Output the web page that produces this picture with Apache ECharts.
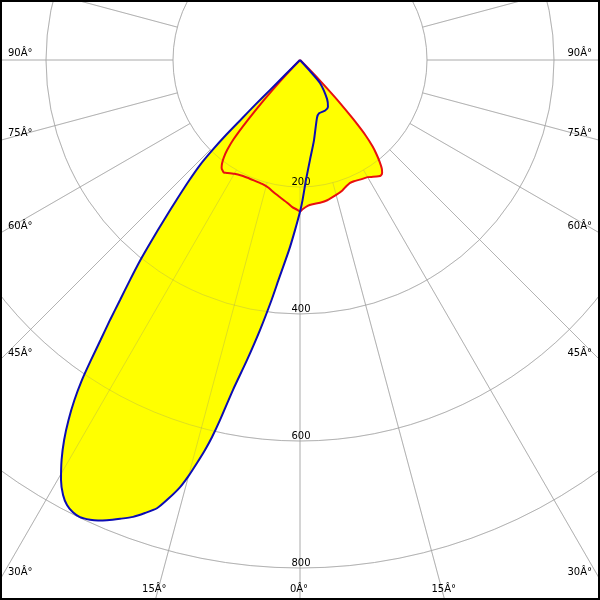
<!DOCTYPE html>
<html><head><meta charset="utf-8">
<script src="https://cdn.jsdelivr.net/npm/echarts@6/dist/echarts.min.js"></script>
<style>html,body{margin:0;padding:0;background:#fff}#c{width:600px;height:600px}</style>
</head><body><div id="c"></div>
<script>
// Blue curve (C0-C180 plane): angle in degrees from nadir (positive = left), intensity
const blueAngles = [45,45,45,45,44.76,44.6,44.19,43.6,42.64,41.42,40.36,39.43,38.58,37.69,36.87,36.16,35.47,34.86,34.27,33.55,32.74,31.84,30.81,29.64,28.58,27.64,26.66,25.7,24.54,23.68,22.76,21.41,20.07,18.89,17.7,16.74,15.7,14.97,14.34,13.69,13.14,12.53,11.48,10.02,8.43,6.77,5.58,3.31,1.68,0,-1.02,-2.86,-5.71,-9.93,-16.34,-19.72,-26.12,-30.79,-34.7,-41.0,-42.3,-43];
const blueValues = [0,33,67,100,133,166,198,228,257,294,331,367,403,438,472,507,541,576,610,643,674,704,733,761,780,791,797,799,796,792,786,776,766,754,741,722,699,677,655,632,610,581,530,480,430,381,348,300,268,239,221,189,158,128,95,89,89,86,75,48,23,0];
// Red curve (C90-C270 plane)
const redAngles = [-46,-45,-44,-43,-42,-41,-40,-39,-38,-37,-36,-35,-34,-32,-30,-27,-24,-22,-20,-18,-15,-11,-8,-5,-3,-1,0,1,3,5,8,11,14,17,21,24,27,30,33,34,36,37,38,39,40,41,42,43,44,45];
const redValues = [0,20,50,90,125,158,178,192,204,214,220,222,221,217,213,211,209,209,212,216,220,225,227,228,230,235,239,236,232,226,219,213,207,204,203,203,204,207,212,214,210,204,195,182,162,125,85,48,18,0];
// Tick labels
const radiusTicks = [200,400,600,800];
const radiusTickLabels = ['200','400','600','800'];
const angleTicks = [90,75,60,45,30,15,0,-15,-30,-45,-60,-75,-90];
const angleTickLabels = ['90Â°','75Â°','60Â°','45Â°','30Â°','15Â°','0Â°','15Â°','30Â°','45Â°','60Â°','75Â°','90Â°'];

const CX = 300, CY = 60, W = 600, H = 600;
const R_MAX = 635, V_MAX = 1000, V_MIN_GRID = 200;
const R_MIN_GRID = R_MAX * V_MIN_GRID / V_MAX;
const FONT = '10px "DejaVu Sans"';

function toPolar(angles, values) {
  return angles.map((a, i) => [values[i], (a + 360) % 360]);
}
const blueData = toPolar(blueAngles, blueValues);
const redData = toPolar(redAngles, redValues);

const labelGraphics = angleTicks.map((a, i) => {
  const rad = a * Math.PI / 180;
  const dx = -Math.sin(rad), dy = Math.cos(rad);
  let t = Infinity, side = 'bottom';
  if (dx < -1e-9) { const tt = (0 - CX) / dx; if (tt < t) { t = tt; side = 'left'; } }
  if (dx > 1e-9) { const tt = (W - CX) / dx; if (tt < t) { t = tt; side = 'right'; } }
  if (dy > 1e-9) { const tt = (H - CY) / dy; if (tt < t) { t = tt; side = 'bottom'; } }
  const hx = CX + dx * t, hy = CY + dy * t;
  let x, y, align;
  if (side === 'left') { x = 8; y = hy - 2; align = 'left'; }
  else if (side === 'right') { x = 592; y = hy - 2; align = 'right'; }
  else { x = hx - 1; y = 594; align = 'center'; }
  return { type: 'text', x: x, y: y, z: 50, silent: true,
    style: { text: angleTickLabels[i], fill: '#000', font: FONT, align: align, verticalAlign: 'bottom' } };
});

function gridAngle(idx, color, z) {
  return { polarIndex: idx, type: 'value', min: 0, max: 360, interval: 15, startAngle: 270, clockwise: true, z: z,
    axisLine: { show: false }, axisTick: { show: false }, axisLabel: { show: false },
    splitLine: { show: true, lineStyle: { color: color, width: 1 } } };
}
function gridRadius(idx, color, z, labels) {
  return { polarIndex: idx, type: 'value', min: V_MIN_GRID, max: V_MAX, interval: 200, z: z,
    axisLine: { show: false }, axisTick: { show: false },
    axisLabel: { show: labels, margin: 1, align: 'center', verticalAlign: 'bottom', color: '#000',
      fontSize: 10, fontFamily: 'DejaVu Sans',
      formatter: v => { const k = radiusTicks.indexOf(v); return k >= 0 ? radiusTickLabels[k] : ''; } },
    splitLine: { show: true, lineStyle: { color: color, width: 1 } } };
}

const lowGrid = '#c4c4c4';
const highGrid = 'rgba(128,128,128,0.25)';
const chart = echarts.init(document.getElementById('c'), null, { renderer: 'canvas' });
chart.setOption({
  animation: false,
  backgroundColor: '#fff',
  polar: [
    { center: [CX, CY], radius: [R_MIN_GRID, R_MAX] },
    { center: [CX, CY], radius: [R_MIN_GRID, R_MAX] },
    { center: [CX, CY], radius: R_MAX }
  ],
  angleAxis: [
    gridAngle(0, lowGrid, 0),
    gridAngle(1, highGrid, 3),
    { polarIndex: 2, type: 'value', min: 0, max: 360, startAngle: 270, clockwise: true, show: false }
  ],
  radiusAxis: [
    gridRadius(0, lowGrid, 0, false),
    gridRadius(1, highGrid, 3, true),
    { polarIndex: 2, type: 'value', min: 0, max: V_MAX, show: false }
  ],
  series: [
    { type: 'line', coordinateSystem: 'polar', polarIndex: 2, data: redData, showSymbol: false, smooth: 0.2,
      lineStyle: { width: 0 }, areaStyle: { color: '#ffff00', opacity: 1 }, z: 2, silent: true },
    { type: 'line', coordinateSystem: 'polar', polarIndex: 2, data: blueData, showSymbol: false, smooth: 0.2,
      lineStyle: { width: 0 }, areaStyle: { color: '#ffff00', opacity: 1 }, z: 2, silent: true },
    { type: 'line', coordinateSystem: 'polar', polarIndex: 2, data: redData, showSymbol: false, smooth: 0.2,
      lineStyle: { width: 2, color: '#e81010' }, z: 5, silent: true },
    { type: 'line', coordinateSystem: 'polar', polarIndex: 2, data: blueData, showSymbol: false, smooth: 0.2,
      lineStyle: { width: 2, color: '#0c0cb4' }, z: 6, silent: true }
  ],
  graphic: labelGraphics.concat([
    { type: 'rect', z: 100, silent: true, shape: { x: 1, y: 1, width: W - 2, height: H - 2 },
      style: { fill: null, stroke: '#000', lineWidth: 2 } }
  ])
});
</script>
</body></html>
